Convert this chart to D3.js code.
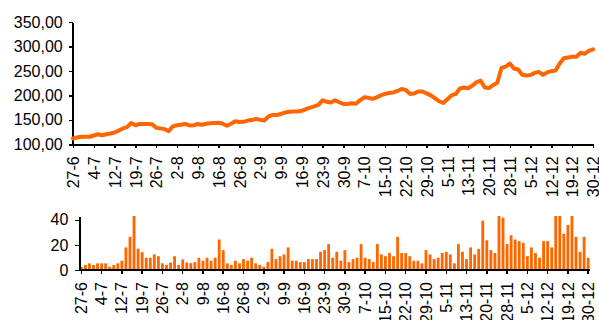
<!DOCTYPE html>
<html>
<head>
<meta charset="utf-8">
<script src="https://cdn.jsdelivr.net/npm/d3@7"></script>
<style>
  html, body { margin: 0; padding: 0; background: #fff; }
  svg { display: block; }
  .axis text { font-family: "Liberation Sans", Arial, sans-serif; font-size: 16px; fill: #000; }
  .axis path, .axis line { stroke: #000; stroke-width: 1.5; shape-rendering: crispEdges; }
</style>
</head>
<body>
<svg id="chart" width="599" height="320"></svg>
<script>
// Tick labels: one every fifth trading day
const tickLabels = ["27-6","4-7","12-7","19-7","26-7","2-8","9-8","16-8","26-8","2-9",
  "9-9","16-9","23-9","30-9","7-10","15-10","22-10","29-10","5-11","13-11",
  "20-11","28-11","5-12","12-12","19-12","30-12"];

// Daily closing price
const price = [
  112,114,115.5,115.5,115.5,118,120.5,118.5,120.5,122,
  124,128,132.5,135,143.5,139,141.5,141.5,141.5,141,
  134,132.5,131,127,136.5,139,140,141.5,138.5,139,
  141.5,140,142,143,143.5,144,142,138,142,147,
  145.5,146,148.5,149.5,152,150,148.5,157,160,160,
  162,165,166.5,167,167,168.5,172,175,177.5,180.5,
  190,187,185.5,190,186,182.5,182.5,184,183,190,
  196,195,193,196,200,203,205,206,209,213,
  211,203,204,208,208,204,200,194.5,188,184.5,
  192,200,203,214,216,214.5,220,227,230,216,
  215,221,226,256,259,265,255,253,242,240.5,
  241.5,246,248,242,247,249.5,251,265,276,277.5,
  279,279,287,285,291,294
];

// Daily traded volume
const volume = [
  2.6,4,5.3,4,5.3,5.3,5.3,2.6,4,5.3,
  7.4,18,26.4,44,16.9,14.2,9.8,9.8,12.4,11,
  5.3,4,6,11,4,8.4,6,5.5,6.3,9.8,
  7.4,9.8,7.4,9.8,24.3,15.8,5.3,4,7.4,5.3,
  8.7,7.4,9.8,5.3,4,2.6,6.3,16.9,8.7,11,
  12.4,18,7.4,7.4,6.3,6.3,8.7,8.7,8.7,14.5,
  15.8,20.6,9.8,14.5,7.4,15.8,6.3,8.7,9.8,20.6,
  9.8,8.7,6.3,20.6,12.4,11,13.5,11,26.4,13.5,
  13.5,11,7.4,7.4,5.3,15.8,12.4,8.7,9.8,13.5,
  14.5,12.4,5.3,20.6,14.5,8.7,18,12.4,16.9,39.3,
  23.7,15.8,13.5,47,41.7,20.6,27.7,24.3,23,21.6,
  11,18,13.5,9.8,23,23,18,50,46,28.8,
  35.9,52,26.4,14.5,26.4,9.8
];

const priceTicks = [100,150,200,250,300,350];
const volumeTicks = [0,20,40];

const svg = d3.select("#chart");
const n = price.length;
const nl = d3.formatLocale({decimal: ",", thousands: ".", grouping: [3], currency: ["€",""]});
const fmt2 = nl.format(".2f");

// ---------- price panel ----------
const x = d3.scaleLinear().domain([0, n - 1]).range([73, 593]);
const y = d3.scaleLinear().domain([100, 350]).range([144.3, 22]);

svg.append("g").attr("class", "axis")
  .attr("transform", "translate(72.7,0)")
  .call(d3.axisLeft(y).tickValues(priceTicks).tickSize(4).tickSizeOuter(0).tickPadding(6).tickFormat(fmt2));

const xa = svg.append("g").attr("class", "axis")
  .attr("transform", `translate(0,${y(100)})`)
  .call(d3.axisBottom(x).tickValues(d3.range(0, n, 5)).tickSize(4).tickSizeOuter(0)
    .tickFormat(i => tickLabels[i / 5]));
xa.selectAll("text")
  .attr("transform", "rotate(-90)")
  .attr("x", -12).attr("y", 0).attr("dy", "0.35em")
  .style("text-anchor", "end");

svg.append("path")
  .datum(price)
  .attr("fill", "none")
  .attr("stroke", "#FF6600")
  .attr("stroke-width", 4)
  .attr("stroke-linejoin", "round")
  .attr("stroke-linecap", "round")
  .attr("d", d3.line().x((d, i) => x(i)).y(d => y(d)));

// ---------- volume panel ----------
const xb = d3.scaleBand().domain(d3.range(n)).range([79.5, 590]).paddingInner(0.3).paddingOuter(0.1);
const yb = d3.scaleLinear().domain([0, 43]).range([270, 216]);

svg.append("clipPath").attr("id", "volClip")
  .append("rect").attr("x", 79).attr("y", yb(43)).attr("width", 515).attr("height", yb(0) - yb(43));

svg.append("g").attr("clip-path", "url(#volClip)")
  .selectAll("rect").data(volume).join("rect")
  .attr("x", (d, i) => xb(i))
  .attr("width", xb.bandwidth())
  .attr("y", d => yb(d))
  .attr("height", d => yb(0) - yb(d))
  .attr("fill", "#FF6600");

svg.append("g").attr("class", "axis")
  .attr("transform", "translate(79.3,0)")
  .call(d3.axisLeft(yb).tickValues(volumeTicks).tickSize(4).tickSizeOuter(0).tickPadding(7));

const xba = svg.append("g").attr("class", "axis")
  .attr("transform", `translate(0,${yb(0)})`)
  .call(d3.axisBottom(xb).tickValues(d3.range(0, n, 5)).tickSize(4).tickSizeOuter(0)
    .tickFormat(i => tickLabels[i / 5]));
xba.select(".domain").attr("d", "M79.3,0H590");
xba.selectAll("text")
  .attr("transform", "rotate(-90)")
  .attr("x", -12).attr("y", 0).attr("dy", "0.35em")
  .style("text-anchor", "end");
</script>
</body>
</html>
